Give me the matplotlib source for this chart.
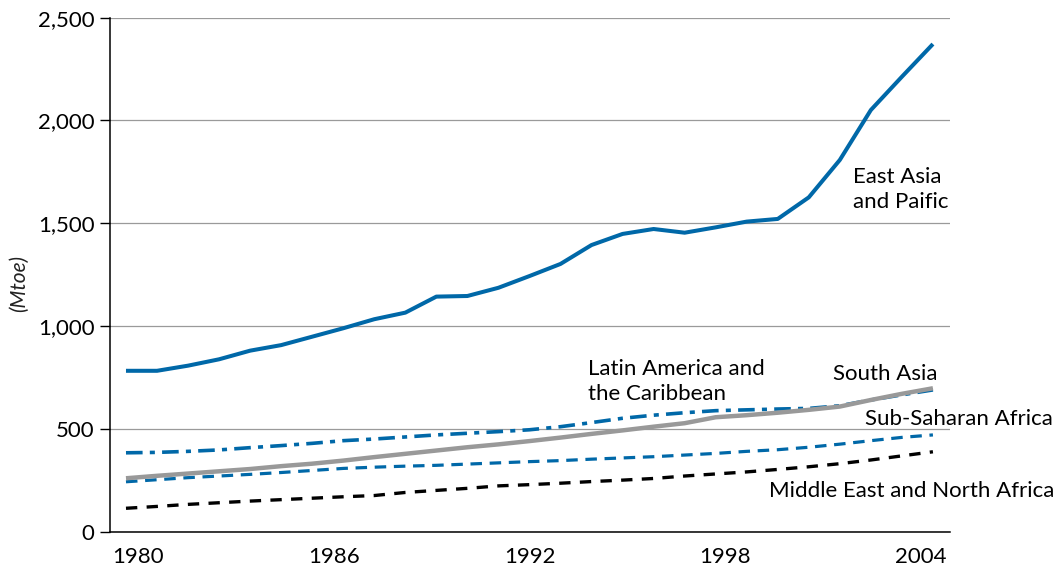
import numpy as np
import matplotlib
matplotlib.use("Agg")
import matplotlib.pyplot as plt

plt.rcParams['font.family'] = ['Lato', 'DejaVu Sans']

# ---- data (Mtoe), 27 yearly points ----
tick_labels = ["1980", "1986", "1992", "1998", "2004"]
tick_index = [0.4, 6.7, 13.0, 19.3, 25.6]

east_asia = [782, 782, 807, 838, 880, 907, 948, 989, 1033, 1065, 1143, 1146, 1186,
             1243, 1302, 1394, 1448, 1472, 1454, 1480, 1508, 1521, 1626, 1808, 2051,
             2213, 2372]
latin_america = [383, 385, 390, 397, 408, 418, 429, 442, 450, 460, 470, 478, 486,
                 495, 510, 530, 551, 566, 578, 588, 592, 596, 599, 612, 640, 665, 689]
south_asia = [259, 271, 282, 293, 304, 318, 330, 345, 362, 378, 394, 410, 424,
              440, 457, 475, 492, 510, 527, 556, 566, 578, 592, 608, 640, 670, 697]
sub_saharan = [242, 252, 262, 270, 278, 287, 297, 307, 313, 318, 322, 328, 334,
               340, 345, 352, 358, 364, 372, 380, 390, 398, 410, 425, 442, 458, 470]
mena = [113, 122, 132, 140, 148, 155, 162, 169, 175, 190, 200, 210, 222,
        228, 235, 243, 250, 258, 270, 280, 290, 302, 315, 330, 348, 368, 388]

x = np.arange(len(east_asia))

BLUE = "#0068a8"
GRAY = "#999999"

fig = plt.figure(figsize=(10.59, 5.70), dpi=100)
ax = fig.add_axes([110/1059, 1-531.5/570, (950-110)/1059, (531.5-17.75)/570])

ax.plot(x, latin_america, color=BLUE, lw=2.6, linestyle=(0, (4.6, 2.0, 1.4, 2.0)),
        dash_capstyle='butt', zorder=3)
ax.plot(x, sub_saharan, color=BLUE, lw=2.3, linestyle=(0, (3.6, 2.4)),
        dash_capstyle='butt', zorder=3)
ax.plot(x, mena, color="black", lw=2.4, linestyle=(0, (3.4, 2.8)),
        dash_capstyle='butt', zorder=3)
ax.plot(x, south_asia, color=GRAY, lw=3.2, solid_capstyle='butt', zorder=4)
ax.plot(x, east_asia, color=BLUE, lw=2.9, solid_capstyle='butt', zorder=5)

ax.set_xlim(-0.515, 26.55)
ax.set_ylim(0, 2500)
ax.set_yticks([0, 500, 1000, 1500, 2000, 2500])
ax.set_yticklabels(["0", "500", "1,000", "1,500", "2,000", "2,500"])
ax.set_xticks(tick_index)
ax.set_xticklabels(tick_labels)

ax.grid(axis='y', color="#9a9a9a", lw=0.9, zorder=1)
ax.grid(axis='x', visible=False)
ax.set_axisbelow(True)

for s in ['top', 'right']:
    ax.spines[s].set_visible(False)
for s in ['left', 'bottom']:
    ax.spines[s].set_color('black')
    ax.spines[s].set_linewidth(1.1)

ax.tick_params(axis='y', length=7.2, width=1.0, pad=4, labelsize=16, colors='black')
ax.tick_params(axis='x', length=0, pad=11, labelsize=16, colors='black')

fig.text(19/1059, 1-284/570, "(Mtoe)", rotation=90, style='italic',
         ha='center', va='center', fontsize=15, color='#222222')

fs = 16
# va='baseline' on multi-line text aligns the last line's baseline
ax.text(23.42, 1574, "East Asia\nand Paific", fontsize=fs, ha='left', va='baseline',
        linespacing=1.3, color='black')
ax.text(14.88, 640, "Latin America and\nthe Caribbean", fontsize=fs, ha='left',
        va='baseline', linespacing=1.3, color='black')
ax.text(22.78, 737, "South Asia", fontsize=fs, ha='left', va='baseline', color='black',
        clip_on=False)
ax.text(23.81, 518, "Sub-Saharan Africa", fontsize=fs, ha='left', va='baseline',
        color='black', clip_on=False)
ax.text(20.72, 169, "Middle East and North Africa", fontsize=fs, ha='left',
        va='baseline', color='black', clip_on=False)

fig.savefig("out.png", dpi=100)
